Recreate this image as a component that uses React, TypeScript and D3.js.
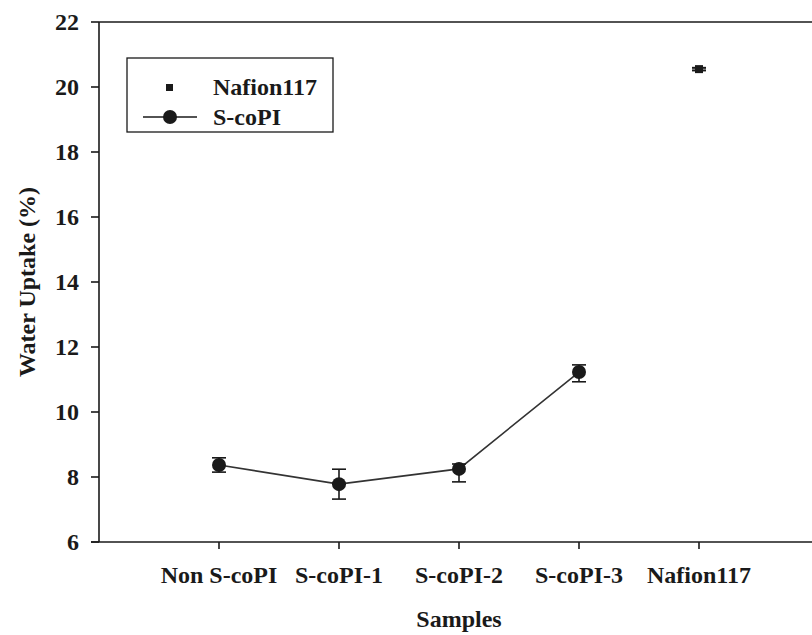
import React from "react";
import * as d3 from "d3";

const categories = ["Non S-coPI", "S-coPI-1", "S-coPI-2", "S-coPI-3", "Nafion117"];
const scopiValues = [8.37, 7.78, 8.25, 11.23];
const scopiErrLow = [0.22, 0.46, 0.4, 0.3];
const scopiErrHigh = [0.22, 0.46, 0.15, 0.22];
const nafionValue = 20.55;
const nafionErr = 0.04;
const yTicks = [6, 8, 10, 12, 14, 16, 18, 20, 22];

const W = 812;
const H = 635;
const font = "'Liberation Serif', 'Times New Roman', serif";

export default function App() {
  const x = d3.scaleLinear().domain([0, 6]).range([99, 819]);
  const y = d3.scaleLinear().domain([6, 22]).range([542, 22]);
  const line = d3
    .line<number>()
    .x((_, i) => x(i + 1))
    .y((d) => y(d));
  const ink = "#1a1a1a";
  const capW = 7;

  return (
    <svg
      width={W}
      height={H}
      style={{ position: "absolute", left: 0, top: 0, background: "#fff" }}
      fontFamily={font}
      fontWeight="bold"
    >
      {/* axes */}
      <line x1={x(0)} x2={W} y1={y(22)} y2={y(22)} stroke={ink} strokeWidth={1.6} />
      <line x1={x(0) - 8} x2={W} y1={y(6)} y2={y(6)} stroke={ink} strokeWidth={1.6} />
      <line x1={x(0)} x2={x(0)} y1={y(22)} y2={y(6)} stroke={ink} strokeWidth={1.6} />
      {yTicks.map((t) => (
        <g key={t}>
          <line x1={x(0) - 8} x2={x(0)} y1={y(t)} y2={y(t)} stroke={ink} strokeWidth={1.6} />
          <text x={79} y={y(t)} dy="0.35em" textAnchor="end" fontSize={24} fill={ink}>
            {t}
          </text>
        </g>
      ))}
      {categories.map((c, i) => (
        <g key={c}>
          <line x1={x(i + 1)} x2={x(i + 1)} y1={y(6)} y2={y(6) + 7} stroke={ink} strokeWidth={1.6} />
          <text x={x(i + 1)} y={583} textAnchor="middle" fontSize={24} fill={ink}>
            {c}
          </text>
        </g>
      ))}
      <text x={459} y={627} textAnchor="middle" fontSize={24} fill={ink}>
        Samples
      </text>
      <text
        transform={`translate(35,${(y(22) + y(6)) / 2}) rotate(-90)`}
        textAnchor="middle"
        fontSize={24}
        fill={ink}
      >
        Water Uptake (%)
      </text>

      {/* S-coPI series */}
      <path d={line(scopiValues) || ""} fill="none" stroke="#333" strokeWidth={1.6} />
      {scopiValues.map((v, i) => {
        const cx = x(i + 1);
        const lo = y(v - scopiErrLow[i]);
        const hi = y(v + scopiErrHigh[i]);
        return (
          <g key={i}>
            <line x1={cx} x2={cx} y1={hi} y2={lo} stroke={ink} strokeWidth={1.6} />
            <line x1={cx - capW} x2={cx + capW} y1={hi} y2={hi} stroke={ink} strokeWidth={1.6} />
            <line x1={cx - capW} x2={cx + capW} y1={lo} y2={lo} stroke={ink} strokeWidth={1.6} />
            <circle cx={cx} cy={y(v)} r={7} fill={ink} />
          </g>
        );
      })}

      {/* Nafion point */}
      {(() => {
        const cx = x(5);
        const cy = y(nafionValue);
        const hi = y(nafionValue + nafionErr);
        const lo = y(nafionValue - nafionErr);
        return (
          <g>
            <line x1={cx - capW} x2={cx + capW} y1={hi} y2={hi} stroke={ink} strokeWidth={2} />
            <line x1={cx - capW} x2={cx + capW} y1={lo} y2={lo} stroke={ink} strokeWidth={2} />
            <rect x={cx - 4} y={cy - 4} width={8} height={8} fill={ink} />
          </g>
        );
      })()}

      {/* legend */}
      <rect x={127} y={58} width={206} height={74} fill="#fff" stroke={ink} strokeWidth={1.3} />
      <rect x={166} y={84} width={7} height={7} fill={ink} />
      <text x={213} y={87} dy="0.35em" fontSize={24} fill={ink}>
        Nafion117
      </text>
      <line x1={143} x2={197} y1={117} y2={117} stroke={ink} strokeWidth={1.6} />
      <circle cx={170} cy={117} r={7} fill={ink} />
      <text x={213} y={117} dy="0.35em" fontSize={24} fill={ink}>
        S-coPI
      </text>
    </svg>
  );
}
